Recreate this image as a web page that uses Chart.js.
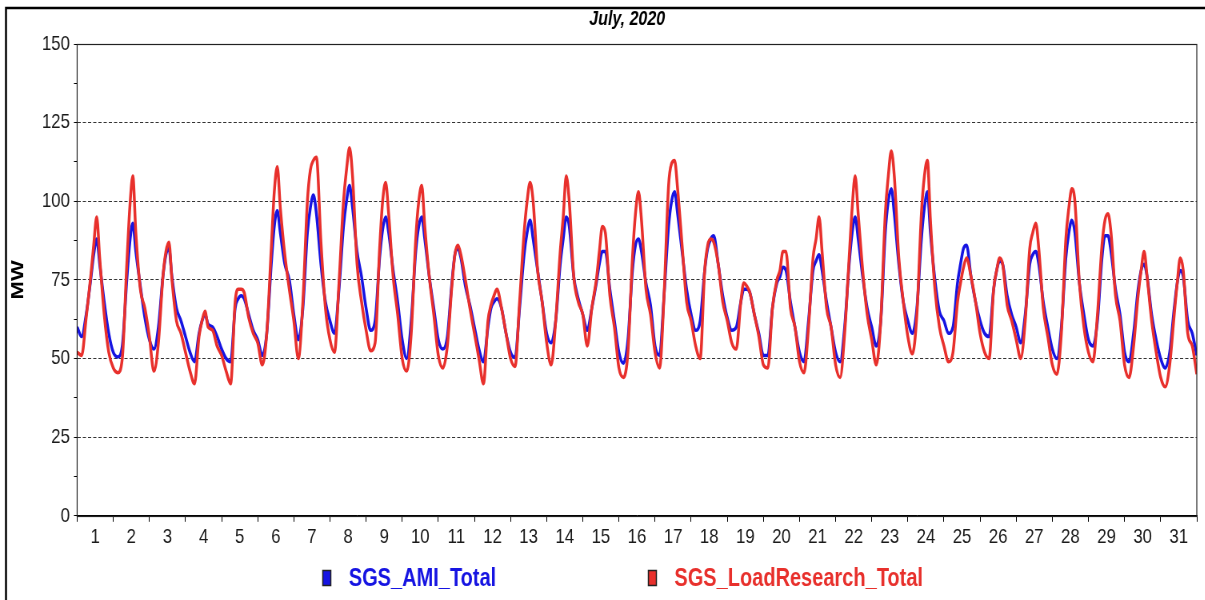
<!DOCTYPE html>
<html>
<head>
<meta charset="utf-8">
<title>July, 2020</title>
<script src="https://cdn.jsdelivr.net/npm/chart.js@4.4.0/dist/chart.umd.min.js"></script>
<style>
html, body { margin: 0; padding: 0; background: #fff; overflow: hidden; }
#wrap { width: 1205px; height: 600px; overflow: hidden; }
/* the source image is squeezed sideways, so the canvas is drawn wide and narrowed */
#chart { display: block; transform: scaleX(0.8); transform-origin: 0 0; }
</style>
</head>
<body>
<div id="wrap"><canvas id="chart" width="1506" height="600"></canvas></div>
<script>
// hours of the day at which each day was sampled off the picture
const sampleHours = [0, 3, 6, 9, 11, 13, 15, 18, 21];

const dayLabels = ['1', '2', '3', '4', '5', '6', '7', '8', '9', '10', '11', '12', '13', '14', '15', '16',
    '17', '18', '19', '20', '21', '22', '23', '24', '25', '26', '27', '28', '29', '30', '31'];

const yTickLabels = [0, 25, 50, 75, 100, 125, 150];

// MW, one row per day, last value closes the month
const amiTotal = [
    60, 57, 64, 75, 83, 88, 80, 68, 58,
    52, 50.5, 54, 75, 87, 93, 84, 73, 63,
    56, 53, 60, 76, 83, 85, 76, 66, 62,
    57, 52, 49, 58, 62, 64, 61, 60, 57,
    53, 50, 49, 66, 69, 70, 69, 64, 59,
    56, 51, 58, 80, 92, 97, 90, 80, 75,
    64, 56, 66, 90, 98, 102, 96, 80, 68,
    62, 58, 72, 92, 100, 105, 98, 84, 76,
    66, 59, 62, 82, 91, 95, 90, 78, 68,
    56, 50, 62, 84, 92, 95, 88, 76, 66,
    56, 53, 57, 74, 83, 85, 82, 73, 67,
    60, 53, 49, 60, 66, 68, 69, 66, 58,
    52, 50.3, 66, 83, 90, 94, 88, 78, 68,
    58, 55, 62, 80, 88, 95, 92, 76, 69,
    64, 59, 66, 74, 80, 84, 84, 72, 62,
    52, 48.5, 56, 78, 86, 88, 84, 74, 67,
    54, 51, 70, 92, 100, 103, 96, 84, 72,
    64, 59, 62, 78, 85, 88, 89, 80, 70,
    63, 59, 60, 68, 72, 72, 71, 64, 58,
    51, 51, 66, 74, 76, 79, 78, 68, 60,
    52, 49, 62, 78, 81, 83, 78, 68, 60,
    52, 49, 60, 80, 90, 95, 88, 76, 66,
    60, 54, 62, 90, 100, 104, 96, 80, 68,
    62, 58, 66, 88, 98, 103, 90, 75, 65,
    62, 58, 60, 74, 80, 85, 86, 76, 68,
    62, 58, 57, 72, 78, 81, 80, 70, 64,
    60, 55, 64, 80, 83, 84, 80, 68, 60,
    53, 50, 60, 82, 90, 94, 90, 74, 64,
    56, 54, 62, 82, 89, 89, 84, 72, 64,
    52, 49, 58, 72, 78, 80, 76, 64, 56,
    50, 47, 52, 66, 74, 78, 76, 62, 58,
    51
];

const loadResearchTotal = [
    52, 51, 63, 76, 86, 95, 82, 64, 52,
    47, 45.5, 50, 80, 98, 108, 90, 72, 66,
    57, 46, 55, 76, 84, 87, 75, 62, 58,
    52, 46, 42, 57, 62, 65, 60, 59, 54,
    51, 46, 42, 68, 72, 72, 71, 63, 58,
    55, 48, 58, 85, 103, 111, 98, 83, 72,
    62, 50, 68, 100, 110, 113, 114, 87, 66,
    56, 52, 74, 100, 110, 117, 108, 80, 68,
    59, 52.5, 55, 85, 100, 106, 96, 76, 64,
    50, 46, 58, 88, 100, 105, 92, 76, 64,
    51, 47, 54, 73, 83, 86, 83, 75, 66,
    58, 50, 42, 62, 67, 70, 72, 66, 58,
    50, 47.5, 68, 90, 100, 106, 100, 78, 68,
    55, 48, 62, 84, 95, 108, 100, 76, 68,
    64, 54, 66, 75, 84, 92, 90, 70, 60,
    47, 44, 52, 82, 96, 103, 94, 72, 64,
    52, 47, 70, 105, 112, 113, 104, 86, 68,
    62, 54, 50, 78, 86, 88, 87, 80, 68,
    62, 55, 53, 68, 74, 73, 71, 64, 57,
    48, 47, 66, 75, 78, 84, 84, 66, 60,
    49, 45.5, 60, 82, 88, 95, 84, 66, 60,
    48, 44, 58, 82, 98, 108, 96, 78, 64,
    56, 48, 62, 96, 108, 116, 108, 82, 68,
    57, 51.5, 64, 96, 108, 113, 94, 72, 60,
    54, 49, 52, 68, 74, 79, 82, 76, 68,
    58, 52, 50, 72, 78, 82, 80, 67, 62,
    56, 50, 62, 85, 90, 93, 85, 66, 57,
    48, 45, 58, 88, 98, 104, 100, 74, 60,
    52, 49, 64, 86, 94, 96, 90, 70, 62,
    48, 44, 54, 70, 78, 84, 76, 62, 52,
    44, 41, 48, 64, 74, 82, 78, 58, 54,
    45
];

const sans = "'Liberation Sans', Arial, sans-serif";
const blue = 'rgb(22, 20, 226)';
const red = 'rgb(232, 48, 44)';

// x is in days since the 1st of July, 00:00
function toPoints(values) {
    const n = sampleHours.length;
    return values.map((v, i) => ({ x: Math.floor(i / n) + sampleHours[i % n] / 24, y: v }));
}

// outer frame, plot box, title and the bottom legend (canvas units, before the 0.8 squeeze)
const decorPlugin = {
    id: 'decor',
    beforeDraw(chart) {
        const ctx = chart.ctx;
        ctx.save();
        ctx.fillStyle = '#fff';
        ctx.fillRect(0, 0, chart.width, chart.height);
        ctx.restore();
    },
    afterDraw(chart) {
        const ctx = chart.ctx;
        const a = chart.chartArea;
        ctx.save();
        ctx.strokeStyle = '#000';
        ctx.lineWidth = 2.5;
        ctx.beginPath();
        ctx.moveTo(7.5, chart.height);
        ctx.lineTo(7.5, 8);
        ctx.lineTo(chart.width, 8);
        ctx.stroke();

        ctx.lineWidth = 1.2;
        ctx.strokeStyle = '#222';
        ctx.strokeRect(a.left, Math.round(a.top) + 0.5, a.right - a.left, Math.round(a.bottom - a.top));

        ctx.fillStyle = '#000';
        ctx.font = "italic bold 20px " + sans;
        ctx.textAlign = 'center';
        ctx.textBaseline = 'middle';
        ctx.fillText('July, 2020', 784, 19);

        ctx.font = "bold 25px " + sans;
        ctx.textAlign = 'left';
        const legendX = [403, 810];
        const ly = 578;
        chart.data.datasets.forEach((ds, i) => {
            const x = legendX[i];
            ctx.fillStyle = ds.borderColor;
            ctx.fillRect(x, ly - 8, 11, 16);
            ctx.strokeStyle = '#222';
            ctx.lineWidth = 1.5;
            ctx.strokeRect(x + 0.5, ly - 7.5, 10, 15);
            ctx.fillStyle = ds.borderColor;
            ctx.fillText(ds.label, x + 33, ly + 1);
        });
        ctx.restore();
    }
};

new Chart(document.getElementById('chart'), {
    type: 'line',
    data: {
        datasets: [{
            label: 'SGS_AMI_Total',
            data: toPoints(amiTotal),
            borderColor: blue,
            backgroundColor: blue,
            borderWidth: 3.5,
            pointRadius: 0,
            cubicInterpolationMode: 'monotone',
            order: 2
        }, {
            label: 'SGS_LoadResearch_Total',
            data: toPoints(loadResearchTotal),
            borderColor: red,
            backgroundColor: red,
            borderWidth: 3.5,
            pointRadius: 0,
            cubicInterpolationMode: 'monotone',
            order: 1
        }]
    },
    options: {
        responsive: false,
        animation: false,
        layout: {
            padding: { top: 44, right: 10, bottom: 47, left: 8 }
        },
        plugins: {
            legend: { display: false },
            title: { display: false },
            tooltip: { enabled: false }
        },
        scales: {
            x: {
                type: 'linear',
                min: 0,
                max: dayLabels.length,
                ticks: {
                    stepSize: 1,
                    autoSkip: false,
                    maxRotation: 0,
                    labelOffset: 22.6,
                    padding: 3,
                    color: '#1a1a1a',
                    font: { family: sans, size: 21 },
                    callback: v => dayLabels[v] || ''
                },
                grid: {
                    drawOnChartArea: false,
                    tickLength: 6,
                    tickColor: '#000'
                },
                border: { color: '#000' }
            },
            y: {
                min: 0,
                max: 150,
                ticks: {
                    stepSize: 12.5,
                    autoSkip: false,
                    padding: 5,
                    color: '#1a1a1a',
                    font: { family: sans, size: 21 },
                    callback: v => yTickLabels.includes(v) ? String(v) : ''
                },
                grid: {
                    color: ctx => (ctx.tick && ctx.tick.value % 25 === 0 && ctx.tick.value > 0 && ctx.tick.value < 150)
                        ? '#333' : 'rgba(0,0,0,0)',
                    tickColor: '#000',
                    tickLength: 4
                },
                border: { color: '#000', dash: [4, 2.5] },
                title: {
                    display: true,
                    text: 'MW',
                    color: '#000',
                    font: { family: sans, size: 22, weight: 'bold' },
                    padding: { top: 2, bottom: 11 }
                }
            }
        }
    },
    plugins: [decorPlugin]
});
</script>
</body>
</html>
